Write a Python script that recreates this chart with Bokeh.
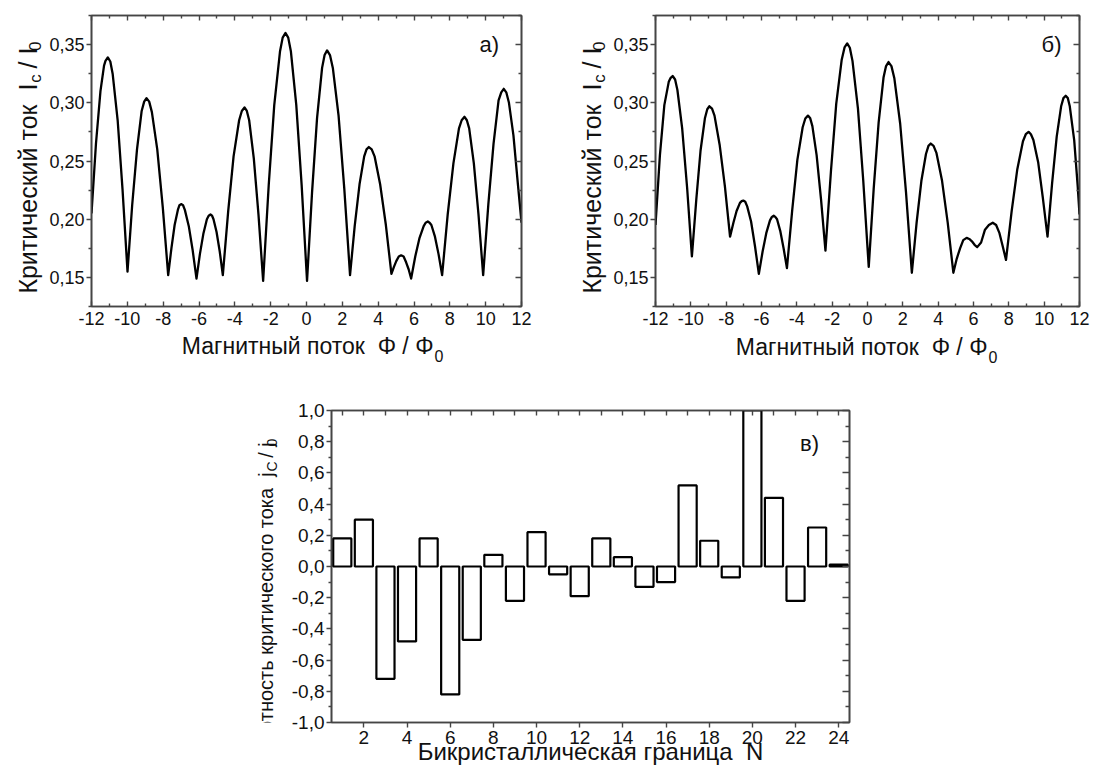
from math import pi
from bokeh.plotting import figure
from bokeh.models import (Range1d, FixedTicker, LinearAxis, CustomJSTickFormatter,
                          Label, ColumnDataSource, Spacer)
from bokeh.layouts import column, row
from bokeh.embed import file_html
from bokeh.resources import INLINE

# ---------------- data ----------------
phi_a = [-12.00, -11.75, -11.50, -11.30, -11.22, -11.09, -10.95, -10.82, -10.54, -10.27,
         -9.99, -9.73, -9.46, -9.20, -9.06, -8.93, -8.78, -8.63, -8.33, -8.02,
         -7.72, -7.54, -7.36, -7.18, -7.09, -7.00, -6.89, -6.79, -6.57, -6.36,
         -6.14, -5.95, -5.75, -5.56, -5.46, -5.36, -5.27, -5.19, -5.02, -4.84,
         -4.67, -4.37, -4.07, -3.76, -3.61, -3.46, -3.33, -3.20, -2.94, -2.68,
         -2.42, -2.11, -1.80, -1.48, -1.33, -1.17, -1.02, -0.87, -0.57, -0.27,
         0.03, 0.31, 0.59, 0.87, 1.01, 1.15, 1.31, 1.47, 1.79, 2.11,
         2.43, 2.69, 2.96, 3.22, 3.35, 3.48, 3.64, 3.80, 4.11, 4.43,
         4.74, 4.88, 5.01, 5.15, 5.28, 5.42, 5.56, 5.70, 5.84, 6.07,
         6.31, 6.54, 6.65, 6.77, 6.87, 6.97, 7.17, 7.37, 7.57, 7.88,
         8.20, 8.51, 8.66, 8.82, 8.95, 9.08, 9.34, 9.60, 9.86, 10.15,
         10.44, 10.72, 10.87, 11.01, 11.15, 11.30, 11.55, 11.80, 12.00]
ic_a = [0.205, 0.265, 0.310, 0.332, 0.336, 0.339, 0.3355, 0.325, 0.285, 0.226,
        0.155, 0.212, 0.260, 0.293, 0.301, 0.304, 0.301, 0.292, 0.260, 0.210,
        0.152, 0.175, 0.195, 0.208, 0.212, 0.213, 0.212, 0.208, 0.194, 0.174,
        0.149, 0.170, 0.188, 0.200, 0.203, 0.204, 0.203, 0.200, 0.189, 0.172,
        0.152, 0.207, 0.254, 0.285, 0.293, 0.296, 0.293, 0.285, 0.252, 0.204,
        0.147, 0.229, 0.298, 0.344, 0.356, 0.360, 0.356, 0.344, 0.298, 0.229,
        0.147, 0.223, 0.287, 0.330, 0.341, 0.345, 0.341, 0.330, 0.289, 0.226,
        0.152, 0.194, 0.230, 0.254, 0.260, 0.262, 0.260, 0.254, 0.230, 0.195,
        0.153, 0.159, 0.164, 0.168, 0.169, 0.168, 0.163, 0.157, 0.149, 0.168,
        0.184, 0.194, 0.197, 0.198, 0.197, 0.195, 0.185, 0.170, 0.152, 0.204,
        0.248, 0.278, 0.285, 0.288, 0.285, 0.278, 0.248, 0.204, 0.152, 0.213,
        0.265, 0.302, 0.309, 0.312, 0.309, 0.300, 0.272, 0.230, 0.197]

phi_b = [-12.00, -11.75, -11.50, -11.25, -11.14, -11.03, -10.89, -10.76, -10.49, -10.21,
         -9.94, -9.69, -9.45, -9.20, -9.07, -8.95, -8.80, -8.66, -8.37, -8.07,
         -7.78, -7.59, -7.41, -7.22, -7.12, -7.03, -6.92, -6.81, -6.59, -6.37,
         -6.15, -5.94, -5.73, -5.52, -5.41, -5.31, -5.22, -5.12, -4.94, -4.75,
         -4.56, -4.26, -3.97, -3.67, -3.52, -3.37, -3.25, -3.12, -2.88, -2.63,
         -2.38, -2.07, -1.77, -1.46, -1.30, -1.15, -1.00, -0.85, -0.54, -0.24,
         0.07, 0.35, 0.63, 0.91, 1.05, 1.19, 1.355, 1.52, 1.85, 2.18,
         2.51, 2.78, 3.05, 3.31, 3.45, 3.58, 3.74, 3.90, 4.22, 4.54,
         4.86, 5.05, 5.24, 5.42, 5.61, 5.76, 5.91, 6.06, 6.21, 6.43,
         6.65, 6.87, 7.09, 7.28, 7.47, 7.65, 7.84, 8.16, 8.48, 8.80,
         8.96, 9.12, 9.25, 9.39, 9.66, 9.92, 10.19, 10.45, 10.71, 10.96,
         11.09, 11.22, 11.34, 11.45, 11.70, 11.90, 12.00]
ic_b = [0.195, 0.255, 0.298, 0.318, 0.3215, 0.323, 0.320, 0.311, 0.278, 0.227,
        0.168, 0.217, 0.259, 0.287, 0.2945, 0.297, 0.295, 0.289, 0.264, 0.228,
        0.185, 0.197, 0.207, 0.214, 0.2155, 0.216, 0.215, 0.211, 0.198, 0.177,
        0.153, 0.172, 0.188, 0.199, 0.202, 0.203, 0.202, 0.200, 0.190, 0.175,
        0.158, 0.208, 0.251, 0.279, 0.2865, 0.289, 0.287, 0.280, 0.255, 0.217,
        0.173, 0.241, 0.299, 0.337, 0.3476, 0.351, 0.3473, 0.336, 0.295, 0.233,
        0.159, 0.226, 0.283, 0.322, 0.3316, 0.335, 0.3315, 0.321, 0.282, 0.223,
        0.154, 0.197, 0.233, 0.256, 0.263, 0.265, 0.263, 0.257, 0.233, 0.197,
        0.154, 0.166, 0.175, 0.182, 0.184, 0.183, 0.181, 0.178, 0.176, 0.180,
        0.191, 0.195, 0.197, 0.195, 0.188, 0.177, 0.165, 0.207, 0.243, 0.267,
        0.273, 0.275, 0.273, 0.268, 0.249, 0.219, 0.185, 0.231, 0.271, 0.297,
        0.304, 0.306, 0.304, 0.297, 0.268, 0.228, 0.204]

boundary_n = list(range(1, 25))
jc_ratio = [0.18, 0.30, -0.72, -0.48, 0.18, -0.82, -0.47, 0.075, -0.22, 0.22, -0.05, -0.19,
            0.18, 0.06, -0.13, -0.10, 0.52, 0.165, -0.07, 1.30, 0.44, -0.22, 0.25, 0.012]

flux_ticks = [-12, -10, -8, -6, -4, -2, 0, 2, 4, 6, 8, 10, 12]
flux_minor = [-11, -9, -7, -5, -3, -1, 1, 3, 5, 7, 9, 11]
ic_ticks = [0.15, 0.20, 0.25, 0.30, 0.35]
ic_minor = [0.125, 0.175, 0.225, 0.275, 0.325, 0.375]
n_ticks = [2, 4, 6, 8, 10, 12, 14, 16, 18, 20, 22, 24]
n_minor = [1, 3, 5, 7, 9, 11, 13, 15, 17, 19, 21, 23]
n_all = list(range(1, 25))
jc_ticks = [-1.0, -0.8, -0.6, -0.4, -0.2, 0.0, 0.2, 0.4, 0.6, 0.8, 1.0]
jc_minor = [-0.9, -0.7, -0.5, -0.3, -0.1, 0.1, 0.3, 0.5, 0.7, 0.9]

ylabel_top = ["Критический ток\u00a0\u00a0I", "c", "\u00a0/\u00a0I", "0"]
xlabel_top = ["Магнитный поток\u00a0\u00a0Φ\u00a0/\u00a0Φ", "0"]
ylabel_bot = ["Плотность критического тока\u00a0\u00a0j", "C", "\u00a0/\u00a0j", "0"]
xlabel_bot = "Бикристаллическая граница\u00a0\u00a0N"
panel_tags = ["а)", "б)", "в)"]

# ---------------- styling ----------------
FONT = "Liberation Sans"
INK = "#111111"
FRAME = "#454545"
K_BASE = 0.40   # offset between requested anchor and drawn baseline (fraction of font size)


def fmt(code):
    return CustomJSTickFormatter(code=code)


def style_axis(ax, ticks, minor, formatter, size, tin, tout, mtin, mtout, standoff):
    ax.ticker = FixedTicker(ticks=ticks, minor_ticks=minor)
    ax.formatter = formatter
    ax.major_label_text_font = FONT
    ax.major_label_text_font_size = size
    ax.major_label_text_color = INK
    ax.major_label_standoff = standoff
    ax.major_tick_in = tin
    ax.major_tick_out = tout
    ax.minor_tick_in = mtin
    ax.minor_tick_out = mtout
    ax.axis_line_color = FRAME
    ax.axis_line_width = 1.6
    ax.major_tick_line_color = FRAME
    ax.minor_tick_line_color = FRAME
    ax.major_tick_line_width = 1.4
    ax.minor_tick_line_width = 1.4


def mirror(p, side, ticks, minor, tin, mtin):
    ax = LinearAxis()
    style_axis(ax, ticks, minor, fmt("return '';"), "0px", tin, 0, mtin, 0, 0)
    p.add_layout(ax, side)


def make_fig(width, height, bl, br, bt, bb, xr, yr):
    p = figure(width=width, height=height, x_range=Range1d(*xr), y_range=Range1d(*yr),
               output_backend="svg", toolbar_location=None,
               min_border_left=bl, min_border_right=br, min_border_top=bt, min_border_bottom=bb)
    p.grid.visible = False
    p.outline_line_color = FRAME
    p.outline_line_width = 1.6
    p.background_fill_color = "white"
    p.border_fill_color = "white"
    return p


def text_fig(width, height):
    """An axis-free canvas used only to hold axis titles (with subscripts)."""
    t = figure(width=width, height=height, x_range=Range1d(0, width), y_range=Range1d(0, height),
               output_backend="svg", toolbar_location=None, min_border=0,
               x_axis_location=None, y_axis_location=None)
    t.grid.visible = False
    t.outline_line_color = None
    t.background_fill_color = "white"
    t.border_fill_color = "white"
    return t


def hlabel(t, h, px, base_y, text, fs, align="left"):
    """Horizontal text whose baseline is at base_y (pixels from top of this canvas)."""
    t.add_layout(Label(x=px, y=h - (base_y - K_BASE * fs), text=text, text_align=align,
                       text_baseline="alphabetic", text_font=FONT, text_font_size=f"{fs}px",
                       text_color=INK))


def vlabel(t, h, base_x, py, text, fs, align="left"):
    """Text rotated to read upward, baseline at base_x, starting/ending at py."""
    t.add_layout(Label(x=base_x - K_BASE * fs, y=h - py, text=text, angle=pi / 2,
                       text_align=align, text_baseline="alphabetic", text_font=FONT,
                       text_font_size=f"{fs}px", text_color=INK))


def ytitle(t, h, bx, yend, parts, big, small, shift, w_sub_em, w_mid_em):
    vlabel(t, h, bx, yend, parts[0], big, align="right")
    vlabel(t, h, bx + shift, yend - 1, parts[1], small)
    y2 = yend - 1 - w_sub_em * small
    vlabel(t, h, bx, y2, parts[2], big)
    vlabel(t, h, bx + shift, y2 - w_mid_em * big, parts[3], small)


def top_panel(width, bl, br, bt, bb, xs, ys, tag_xy, tag):
    xr, yr = (-12, 12), (0.125, 0.375)
    p = make_fig(width, 333, bl, br, bt, bb, xr, yr)
    style_axis(p.xaxis[0], flux_ticks, flux_minor, fmt("return tick.toFixed(0);"),
               "18px", 5, 0, 3, 0, 5)
    style_axis(p.yaxis[0], ic_ticks, ic_minor, fmt("return tick.toFixed(2).replace('.', ',');"),
               "18px", 0, 5, 0, 3, 2)
    mirror(p, "above", flux_ticks, flux_minor, 5, 3)
    mirror(p, "right", ic_ticks, ic_minor, 6, 3)
    src = ColumnDataSource(dict(phi=xs, ic=ys))
    p.line(x="phi", y="ic", source=src, line_color="black", line_width=2.3, line_join="round")
    p.add_layout(Label(x=tag_xy[0], y=tag_xy[1], text=tag, text_align="center",
                       text_baseline="middle", text_font=FONT, text_font_size="22px",
                       text_color=INK))
    return p


# ---- top row: [T1 | p1 | T2 | p2] ----
p1 = top_panel(494, 45, 19, 15, 27, phi_a, ic_a, (10.2, 0.350), panel_tags[0])
p2 = top_panel(483, 43, 14, 14, 26, phi_b, ic_b, (10.42, 0.350), panel_tags[1])

T1 = text_fig(46, 333)
ytitle(T1, 333, 37, 78, ylabel_top, 25, 17, 4.5, 0.5, 1.112)
T2 = text_fig(70, 333)
ytitle(T2, 333, 61, 78, ylabel_top, 25, 17, 4.5, 0.5, 1.112)

# ---- x titles of the top panels ----
X1 = text_fig(540, 47)
hlabel(X1, 47, 433, 22, xlabel_top[0], 23, align="right")
hlabel(X1, 47, 434, 29, xlabel_top[1], 16)
X2 = text_fig(553, 47)
hlabel(X2, 47, 447, 23, xlabel_top[0], 23, align="right")
hlabel(X2, 47, 448, 30, xlabel_top[1], 16)

# ---- bottom panel ----
xr3, yr3 = (0.5, 24.5), (-1.0, 1.0)
p3 = make_fig(609, 389, 51, 40, 30, 47, xr3, yr3)
style_axis(p3.xaxis[0], n_ticks, n_minor, fmt("return tick.toFixed(0);"), "19px", 0, 5, 0, 0, 3)
style_axis(p3.yaxis[0], jc_ticks, jc_minor, fmt("return tick.toFixed(1).replace('.', ',');"),
           "19px", 0, 5, 0, 3, 2)
p3.xaxis[0].axis_label = xlabel_bot
p3.xaxis[0].axis_label_text_font = FONT
p3.xaxis[0].axis_label_text_font_size = "24px"
p3.xaxis[0].axis_label_text_font_style = "normal"
p3.xaxis[0].axis_label_text_color = INK
p3.xaxis[0].axis_label_standoff = -9
mirror(p3, "above", n_all, [], 5, 0)
mirror(p3, "right", jc_ticks, jc_minor, 7, 4)
src3 = ColumnDataSource(dict(n=boundary_n, jc=jc_ratio))
p3.vbar(x="n", top="jc", bottom=0, width=0.84, source=src3, fill_color="white",
        line_color="black", line_width=2.2)
p3.add_layout(Label(x=22.65, y=0.79, text=panel_tags[2], text_align="center",
                    text_baseline="middle", text_font=FONT, text_font_size="22px",
                    text_color=INK))

T3 = text_fig(80, 389)
ytitle(T3, 389, 73, 77, ylabel_bot, 20, 14, 4, 0.722, 1.056)

layout = column(
    row(T1, p1, T2, p2),
    row(X1, X2),
    row(Spacer(width=200, height=389), T3, p3),
)

open("out.html", "w").write(file_html(layout, INLINE))
